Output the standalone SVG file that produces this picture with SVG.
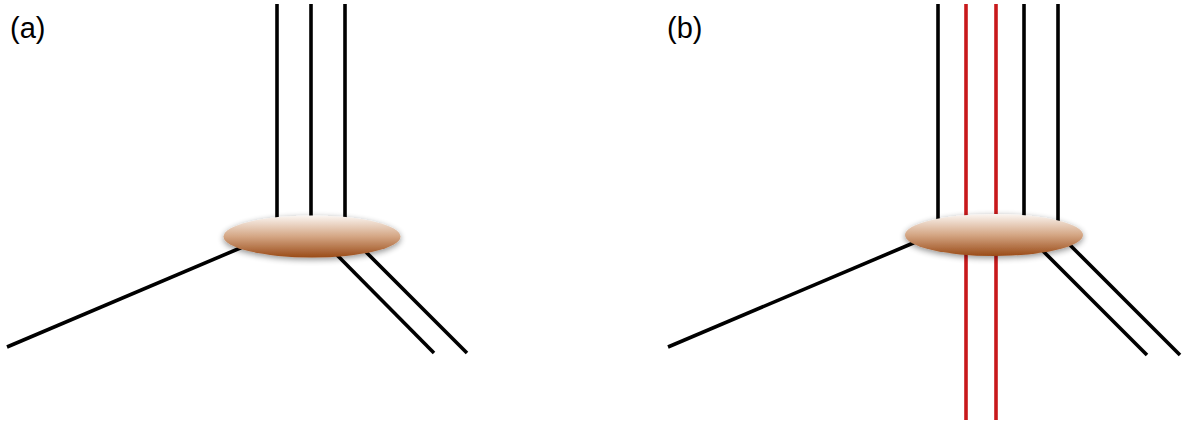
<svg xmlns="http://www.w3.org/2000/svg" width="1184" height="422" viewBox="0 0 1184 422">
<style>
.k{stroke:#000;stroke-width:3.6;fill:none}
.r{stroke:#c8191b;stroke-width:3.6;fill:none}
.lbl{font-family:"Liberation Sans",Arial,sans-serif;font-size:29px;fill:#000}
.blob{fill:url(#g);filter:url(#sh)}
</style>
<defs>
<linearGradient id="g" x1="0" y1="0" x2="0" y2="1">
<stop offset="0" stop-color="#fbf6f2"/>
<stop offset="0.5" stop-color="#d4a684"/>
<stop offset="1" stop-color="#9a4b18"/>
</linearGradient>
<filter id="sh" x="-20%" y="-60%" width="140%" height="220%">
<feGaussianBlur in="SourceAlpha" stdDeviation="3"/>
<feOffset dx="0" dy="2" result="b"/>
<feComponentTransfer><feFuncA type="linear" slope="0.45"/></feComponentTransfer>
<feMerge><feMergeNode/><feMergeNode in="SourceGraphic"/></feMerge>
</filter>
</defs>
<rect width="1184" height="422" fill="#fff"/>
<g id="connectors">
<line class="k" x1="277" y1="4" x2="277" y2="222"/>
<line class="k" x1="311" y1="4" x2="311" y2="222"/>
<line class="k" x1="345" y1="4" x2="345" y2="222"/>
<line class="k" x1="7" y1="347" x2="245" y2="246"/>
<line class="k" x1="335" y1="253" x2="434" y2="353"/>
<line class="k" x1="365" y1="251" x2="467" y2="353"/>
<line class="k" x1="938" y1="4" x2="938" y2="222"/>
<line class="r" x1="966" y1="4" x2="966" y2="420"/>
<line class="r" x1="996" y1="4" x2="996" y2="420"/>
<line class="k" x1="1024" y1="4" x2="1024" y2="222"/>
<line class="k" x1="1058" y1="4" x2="1058" y2="222"/>
<line class="k" x1="668" y1="347" x2="918" y2="241"/>
<line class="k" x1="1040" y1="248" x2="1147" y2="355"/>
<line class="k" x1="1067" y1="242" x2="1180" y2="355"/>
</g>
<g id="nodeA"><ellipse class="blob" cx="312" cy="236.5" rx="88.5" ry="21"/></g>
<g id="nodeB"><ellipse class="blob" cx="994" cy="235" rx="89" ry="21"/></g>
<g id="labelA"><text class="lbl" x="10" y="38">(a)</text></g>
<g id="labelB"><text class="lbl" x="667" y="38">(b)</text></g>
</svg>
